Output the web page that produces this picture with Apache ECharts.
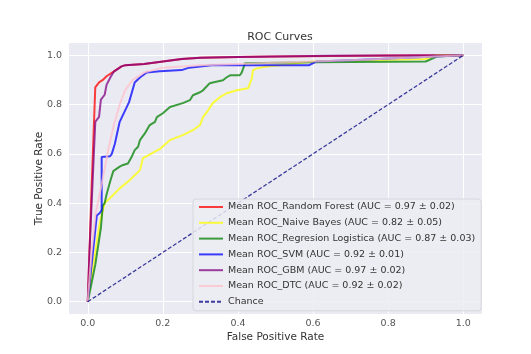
<!DOCTYPE html>
<html>
<head>
<meta charset="utf-8">
<script src="https://cdn.jsdelivr.net/npm/echarts@6/dist/echarts.min.js"></script>
<style>
  html, body { margin: 0; padding: 0; background: #fff; }
  #main { width: 531px; height: 354px; }
</style>
</head>
<body>
<div id="main"></div>
<script>
// mean ROC curves, [fpr, tpr]
var rocRandomForest = [[0,0],[0.01,0.45],[0.02,0.87],[0.03,0.89],[0.04,0.9],[0.05,0.915],[0.07,0.935],[0.09,0.955],[0.1,0.96],[0.15,0.965],[0.2,0.975],[0.25,0.985],[0.3,0.99],[0.4,0.993],[0.5,0.995],[0.65,0.997],[0.8,0.999],[1,1]];
var rocNaiveBayes = [[0,0],[0.01,0.1],[0.019,0.19],[0.032,0.32],[0.045,0.4],[0.059,0.42],[0.085,0.46],[0.112,0.494],[0.139,0.534],[0.147,0.583],[0.156,0.59],[0.192,0.62],[0.219,0.656],[0.253,0.676],[0.28,0.696],[0.299,0.717],[0.307,0.749],[0.317,0.769],[0.333,0.806],[0.352,0.83],[0.37,0.846],[0.397,0.858],[0.427,0.866],[0.437,0.907],[0.44,0.939],[0.45,0.947],[0.477,0.955],[0.512,0.96],[0.6,0.975],[0.9,0.985],[0.93,1],[1,1]];
var rocLogistica = [[0,0],[0.02,0.15],[0.035,0.3],[0.04,0.39],[0.045,0.4],[0.05,0.435],[0.06,0.49],[0.068,0.53],[0.085,0.548],[0.094,0.555],[0.107,0.561],[0.117,0.588],[0.125,0.615],[0.134,0.629],[0.139,0.656],[0.152,0.683],[0.165,0.717],[0.179,0.73],[0.184,0.749],[0.2,0.765],[0.219,0.79],[0.253,0.806],[0.272,0.818],[0.28,0.838],[0.299,0.85],[0.307,0.858],[0.325,0.887],[0.333,0.89],[0.36,0.899],[0.37,0.911],[0.379,0.919],[0.405,0.919],[0.41,0.93],[0.419,0.968],[0.6,0.972],[0.9,0.975],[0.93,0.995],[1,1]];
var rocSVM = [[0,0],[0.024,0.35],[0.032,0.36],[0.037,0.372],[0.037,0.587],[0.059,0.59],[0.064,0.6],[0.072,0.64],[0.08,0.696],[0.085,0.73],[0.11,0.81],[0.125,0.89],[0.139,0.91],[0.157,0.93],[0.192,0.935],[0.25,0.94],[0.27,0.95],[0.33,0.96],[0.59,0.96],[0.61,0.975],[0.7,0.98],[1,1]];
var rocGBM = [[0,0],[0.005,0.22],[0.02,0.73],[0.03,0.75],[0.035,0.82],[0.045,0.84],[0.05,0.88],[0.06,0.91],[0.07,0.935],[0.09,0.955],[0.1,0.96],[0.15,0.965],[0.2,0.975],[0.25,0.985],[0.3,0.99],[0.4,0.993],[0.65,0.998],[1,1]];
var rocDTC = [[0,0],[0.01,0.2],[0.02,0.35],[0.04,0.5],[0.055,0.62],[0.07,0.72],[0.085,0.8],[0.1,0.86],[0.12,0.9],[0.15,0.93],[0.2,0.95],[0.3,0.96],[0.4,0.965],[0.5,0.97],[0.7,0.98],[0.85,0.99],[1,1]];
var chance = [[0,0],[1,1]];

var names = [
    'Mean ROC_Random Forest (AUC = 0.97 ± 0.02)',
    'Mean ROC_Naive Bayes (AUC = 0.82 ± 0.05)',
    'Mean ROC_Regresion Logistica (AUC = 0.87 ± 0.03)',
    'Mean ROC_SVM (AUC = 0.92 ± 0.01)',
    'Mean ROC_GBM (AUC = 0.97 ± 0.02)',
    'Mean ROC_DTC (AUC = 0.92 ± 0.02)',
    'Chance'
];
var colors = ['#ff0000', '#ffff00', '#008000', '#0000ff', '#800080', '#ffc0cb', '#000080'];
var curves = [rocRandomForest, rocNaiveBayes, rocLogistica, rocSVM, rocGBM, rocDTC, chance];
var ticks = [0, 0.2, 0.4, 0.6, 0.8, 1.0];

var font = 'DejaVu Sans';

function makeAxis(name, isX) {
    return {
        type: 'value',
        min: -0.05,
        max: 1.05,
        name: name,
        nameLocation: 'middle',
        nameGap: isX ? 18 : 24,
        nameMoveOverlap: false,
        nameTextStyle: {fontFamily: font, fontSize: 10.5, color: '#333'},
        axisLine: {show: false},
        axisTick: {show: false, customValues: ticks},
        axisLabel: {
            customValues: ticks,
            fontFamily: font, fontSize: 9.5, color: '#555',
            margin: isX ? 5 : 7,
            formatter: function (v) { return v.toFixed(1); }
        },
        splitLine: {show: true, lineStyle: {color: '#ffffff', width: 1}}
    };
}

var series = curves.map(function (d, i) {
    var isChance = i === curves.length - 1;
    return {
        name: names[i],
        type: 'line',
        data: d,
        symbol: 'none',
        animation: false,
        lineStyle: {
            color: colors[i],
            width: isChance ? 1.3 : 2,
            opacity: 0.75,
            type: isChance ? [4, 2] : 'solid'
        },
        itemStyle: {color: colors[i], opacity: 0.75}
    };
});

var chart = echarts.init(document.getElementById('main'));
chart.setOption({
    backgroundColor: '#ffffff',
    color: colors,
    title: {
        text: 'ROC Curves',
        left: 275, top: 27, textAlign: 'center',
        textStyle: {fontFamily: font, fontSize: 11, fontWeight: 'normal', color: '#333'}
    },
    grid: {left: 69, right: 49, top: 43, bottom: 40, show: true, backgroundColor: '#eaeaf2', borderWidth: 0},
    xAxis: makeAxis('False Positive Rate', true),
    yAxis: makeAxis('True Positive Rate', false),
    legend: {
        orient: 'vertical',
        left: 193, top: 199,
        itemWidth: 24, itemHeight: 10, itemGap: 5.8,
        padding: [3, 6, 4, 5],
        backgroundColor: 'rgba(236,236,243,0.85)',
        borderColor: '#d6d6de', borderWidth: 1, borderRadius: 3,
        itemStyle: {opacity: 0},
        textStyle: {fontFamily: font, fontSize: 9.5, color: '#333'},
        data: names
    },
    series: series
});
</script>
</body>
</html>
